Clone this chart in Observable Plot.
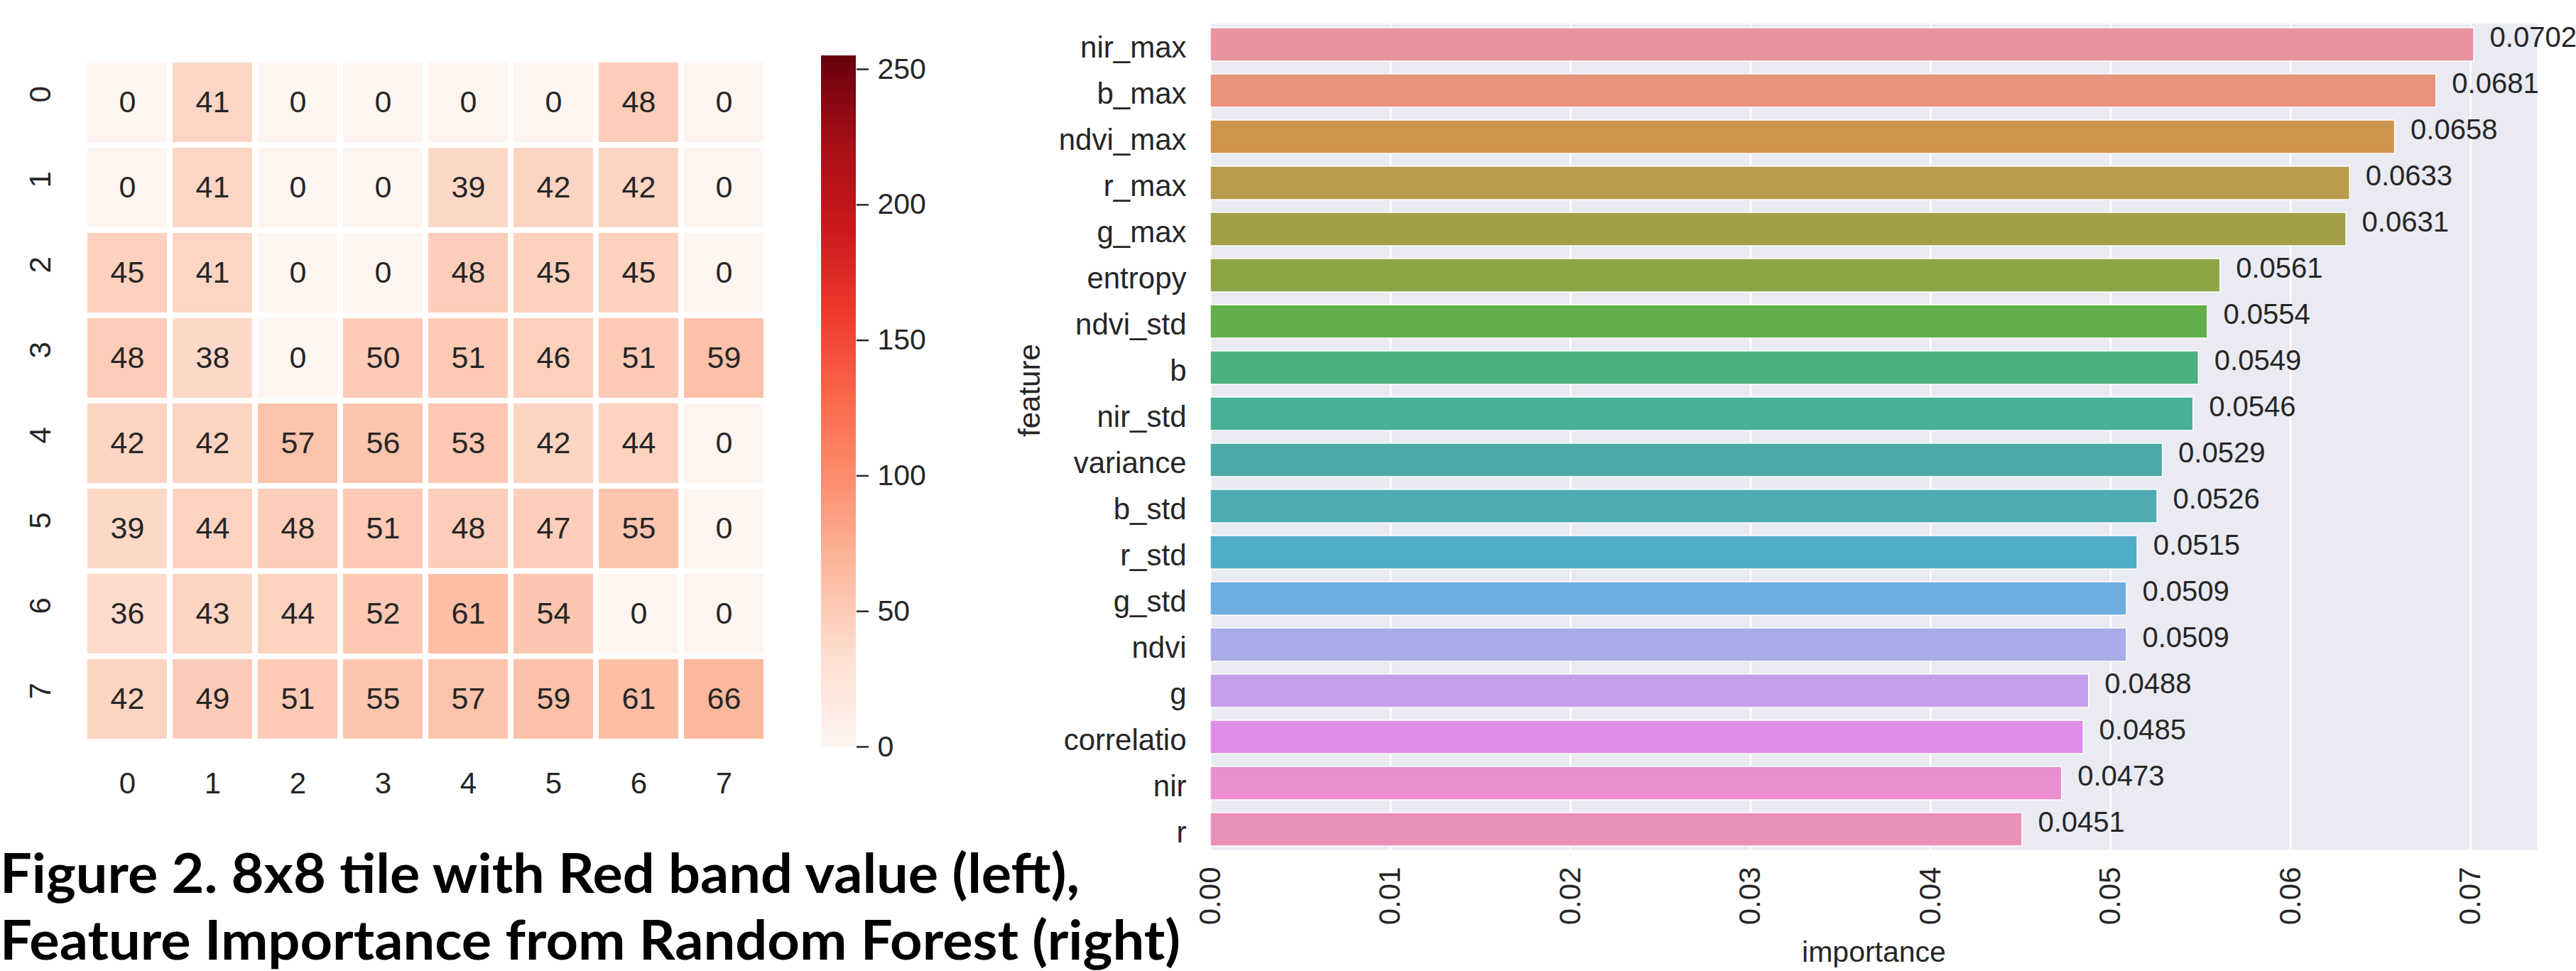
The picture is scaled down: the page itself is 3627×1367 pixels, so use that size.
<!DOCTYPE html>
<html>
<head>
<meta charset="utf-8">
<script src="https://cdn.jsdelivr.net/npm/d3@7"></script>
<script src="https://cdn.jsdelivr.net/npm/@observablehq/plot@0.6"></script>
<style>
html, body { margin: 0; padding: 0; background: #fff; }
#page { position: relative; width: 3627px; height: 1367px; overflow: hidden; background: #fff; }
.panel { position: absolute; top: 0; }
.panel svg { max-width: none !important; display: block; }
#caption { position: absolute; left: 0; top: 0; pointer-events: none; z-index: 10; }
</style>
</head>
<body>
<div id="page">
  <div class="panel" id="heat" style="left:0px;width:1100px;"></div>
  <div class="panel" id="cbar" style="left:1156px;width:249px;"></div>
  <div class="panel" id="bars" style="left:1380px;width:2247px;"></div>
</div>
<script>
// ---------- data ----------
const rowLabels = [0, 1, 2, 3, 4, 5, 6, 7];
const colLabels = [0, 1, 2, 3, 4, 5, 6, 7];
const tileValues = [
  [0, 41, 0, 0, 0, 0, 48, 0],
  [0, 41, 0, 0, 39, 42, 42, 0],
  [45, 41, 0, 0, 48, 45, 45, 0],
  [48, 38, 0, 50, 51, 46, 51, 59],
  [42, 42, 57, 56, 53, 42, 44, 0],
  [39, 44, 48, 51, 48, 47, 55, 0],
  [36, 43, 44, 52, 61, 54, 0, 0],
  [42, 49, 51, 55, 57, 59, 61, 66]
];
const colorbarTicks = [0, 50, 100, 150, 200, 250];
const colorbarMax = 255;

const features = ["nir_max", "b_max", "ndvi_max", "r_max", "g_max", "entropy", "ndvi_std", "b",
  "nir_std", "variance", "b_std", "r_std", "g_std", "ndvi", "g", "correlatio", "nir", "r"];
const importance = [0.0702, 0.0681, 0.0658, 0.0633, 0.0631, 0.0561, 0.0554, 0.0549,
  0.0546, 0.0529, 0.0526, 0.0515, 0.0509, 0.0509, 0.0488, 0.0485, 0.0473, 0.0451];
const importanceTicks = [0, 0.01, 0.02, 0.03, 0.04, 0.05, 0.06, 0.07];

const captionLines = [
  "Figure 2. 8x8 tile with Red band value (left),",
  "Feature Importance from Random Forest (right)"
];

// ---------- styles ----------
const FONT = "'Liberation Sans', Arial, Helvetica, sans-serif";
const INK = "#262626";
const redsStops = ["#fff5f0", "#fee0d2", "#fcbba1", "#fc9272", "#fb6a4a", "#ef3b2c", "#cb181d", "#a50f15", "#67000d"];
const redsInterp = d3.piecewise(d3.interpolateRgb, redsStops);
const barColors = ["#E9939F", "#E8937C", "#CF944C", "#B89B4B", "#A39F47", "#8EA546", "#62AE4A", "#4BB07E",
  "#4AAF96", "#4CAAA6", "#4EABB3", "#51ADC8", "#6DAEE0", "#A8ACE8", "#C5A0EA", "#DF8DE6", "#EA8ECF", "#E991B8"];

// ---------- heatmap ----------
const cells = [];
tileValues.forEach((row, i) => row.forEach((v, j) => cells.push({row: rowLabels[i], col: colLabels[j], value: v})));

const heat = Plot.plot({
  width: 1100, height: 1150,
  marginLeft: 116, marginRight: 19, marginTop: 81, marginBottom: 104,
  style: {fontFamily: FONT, fontSize: "42px", color: INK, background: "white"},
  x: {domain: colLabels, padding: 0, axis: null},
  y: {domain: rowLabels, padding: 0, axis: null},
  color: {type: "linear", domain: [0, colorbarMax], interpolate: () => redsInterp},
  marks: [
    Plot.cell(cells, {x: "col", y: "row", fill: "value", inset: 4}),
    Plot.text(cells, {x: "col", y: "row", text: d => String(d.value), fill: INK, fontSize: 43}),
    Plot.axisX({tickSize: 0, tickPadding: 41, label: null, fontSize: 42, fill: INK}),
    Plot.text(rowLabels, {y: d => d, frameAnchor: "left", dx: -59, rotate: -90, text: d => String(d), fontSize: 42, fill: INK})
  ]
});
document.getElementById("heat").appendChild(heat);

// ---------- colorbar ----------
const cbSteps = d3.range(0, colorbarMax, 1);
const cbar = Plot.plot({
  width: 249, height: 1150,
  marginLeft: 0, marginRight: 200, marginTop: 78, marginBottom: 99,
  style: {fontFamily: FONT, fontSize: "42px", color: INK, background: "white"},
  x: {domain: [0, 1], axis: null},
  y: {domain: [0, colorbarMax], axis: null},
  color: {type: "linear", domain: [0, colorbarMax], interpolate: () => redsInterp},
  marks: [
    Plot.rect(cbSteps, {x1: 0, x2: 1, y1: d => d, y2: d => d + 1, fill: d => d + 0.5, shapeRendering: "crispEdges"}),
    Plot.axisY({anchor: "right", ticks: colorbarTicks, tickFormat: d => String(d), tickSize: 17, tickPadding: 13,
      strokeWidth: 2.5, label: null, fontSize: 41, fill: INK})
  ]
});
document.getElementById("cbar").appendChild(cbar);

// ---------- feature importance bars ----------
const barData = features.map((f, i) => ({feature: f, importance: importance[i]}));
const xMax = d3.max(importance) * 1.05;

const bars = Plot.plot({
  width: 2247, height: 1367,
  marginLeft: 324, marginRight: 55, marginTop: 33, marginBottom: 171,
  style: {fontFamily: FONT, fontSize: "42px", color: INK, background: "white", overflow: "visible"},
  x: {domain: [0, xMax]},
  y: {domain: features, paddingInner: 0.28, paddingOuter: 0.06},
  color: {domain: features, range: barColors},
  marks: [
    Plot.frame({fill: "#EAEAF2", stroke: "none"}),
    Plot.gridX({ticks: importanceTicks, stroke: "white", strokeOpacity: 1, strokeWidth: 2.5}),
    Plot.barX(barData, {x: "importance", y: "feature", fill: "feature", stroke: "white", strokeWidth: 1.5}),
    Plot.text(barData, {x: "importance", y: "feature", text: d => d.importance.toFixed(4), textAnchor: "start",
      dx: 22, dy: 3, lineAnchor: "bottom", fontSize: 40, fill: INK}),
    Plot.axisX({ticks: importanceTicks, tickFormat: d => d.toFixed(2), tickRotate: -90, tickSize: 0, tickPadding: 24,
      label: null, fontSize: 42, fill: INK}),
    Plot.axisY({tickSize: 0, tickPadding: 34, label: null, fontSize: 42, dy: 5, fill: INK}),
    Plot.text(["importance"], {frameAnchor: "bottom", dy: 144, text: d => d, fontSize: 41, fill: INK, lineAnchor: "middle"}),
    Plot.text(["feature"], {frameAnchor: "left", dx: -254, rotate: -90, text: d => d, fontSize: 42, fill: INK})
  ]
});
document.getElementById("bars").appendChild(bars);

// ---------- caption ----------
const capBaselines = [1257, 1351];
const capLengths = [1520, 1662];
const cap = d3.select("#page").append("svg")
  .attr("id", "caption").attr("width", 3627).attr("height", 1367);
cap.selectAll("text").data(captionLines).join("text")
  .attr("x", 0)
  .attr("y", (d, i) => capBaselines[i])
  .attr("textLength", (d, i) => capLengths[i])
  .attr("lengthAdjust", "spacingAndGlyphs")
  .attr("font-family", "Lato, 'Open Sans', sans-serif")
  .attr("font-weight", 700)
  .attr("font-size", 77)
  .attr("fill", "#000")
  .text(d => d);
</script>
</body>
</html>
